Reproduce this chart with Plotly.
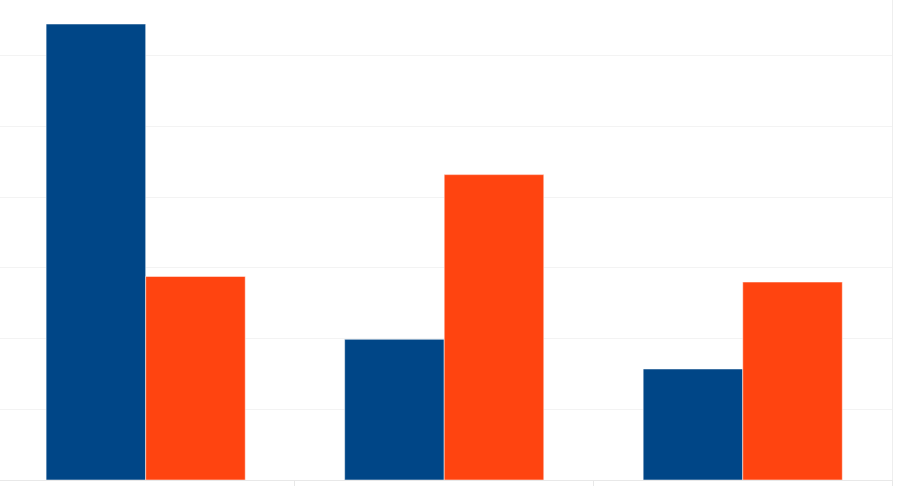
import plotly.graph_objects as go

# categories and series (grid step = 10)
CATEGORIES = ["A", "B", "C"]
SERIES_1 = [64.5, 19.9, 15.7]
SERIES_2 = [28.8, 43.2, 28.0]

BLUE = "#004687"
ORANGE = "#FF4410"


def main():
    fig = go.Figure()
    bar_options = {"marker_line_color": "white", "marker_line_width": 0.5}
    fig.add_trace(go.Bar(x=CATEGORIES, y=SERIES_1, marker_color=BLUE, **bar_options))
    fig.add_trace(go.Bar(x=CATEGORIES, y=SERIES_2, marker_color=ORANGE, **bar_options))

    fig.update_layout(
        barmode="group",
        bargap=0.333,
        bargroupgap=0,
        showlegend=False,
        plot_bgcolor="white",
        paper_bgcolor="white",
        margin=dict(l=0, r=8, t=0, b=6),
        width=900,
        height=486,
    )
    fig.update_xaxes(
        range=[-0.488, 2.5],
        showticklabels=False,
        showgrid=False,
        tickson="boundaries",
        ticks="outside",
        ticklen=6,
        tickcolor="#e8e8e8",
        showline=True,
        linecolor="#e8e8e8",
        zeroline=False,
    )
    fig.update_yaxes(
        range=[0, 67.9],
        dtick=10,
        showticklabels=False,
        gridcolor="#f3f3f3",
        side="right",
        showline=True,
        linecolor="#eeeeee",
        zeroline=False,
        ticks="",
    )

    # drop the browser's default body margin so the figure sits at the page corner
    fig.write_html(
        "out.html",
        config={"displayModeBar": False},
        post_script="document.body.style.margin = '0';",
    )


if __name__ == "__main__":
    main()
